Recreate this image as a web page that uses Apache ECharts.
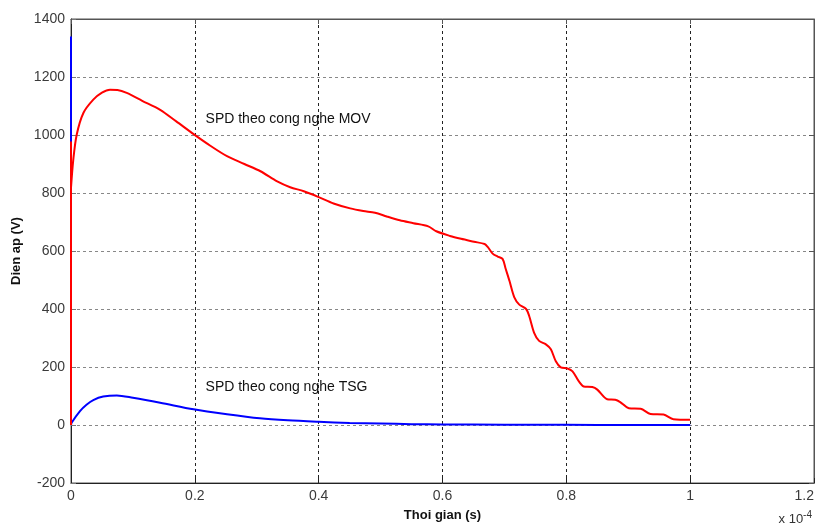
<!DOCTYPE html>
<html><head><meta charset="utf-8">
<script src="https://cdn.jsdelivr.net/npm/echarts@6/dist/echarts.min.js"></script>
<style>html,body{margin:0;padding:0;background:#fff}#c{width:822px;height:525px}</style>
</head><body><div id="c"></div>
<script>
// x in units of 1e-4 s
const xTicks = [0, 0.2, 0.4, 0.6, 0.8, 1.0, 1.2];
const yTicks = [-200, 0, 200, 400, 600, 800, 1000, 1200, 1400];

const movT = [0, 0, 0, 0.0037, 0.0092, 0.020, 0.036, 0.050, 0.063, 0.075, 0.090, 0.115, 0.144, 0.170, 0.198, 0.225, 0.252, 0.280, 0.306, 0.333, 0.354, 0.376, 0.400, 0.424, 0.451, 0.472, 0.491, 0.510, 0.531, 0.553, 0.577, 0.590, 0.612, 0.630, 0.651, 0.668, 0.673, 0.681, 0.689, 0.697, 0.702, 0.708, 0.716, 0.724, 0.735, 0.740, 0.748, 0.756, 0.767, 0.775, 0.783, 0.791, 0.802, 0.810, 0.820, 0.828, 0.842, 0.850, 0.866, 0.879, 0.887, 0.901, 0.920, 0.936, 0.957, 0.973, 1.0];
const movV = [0, 978, 818, 915, 1001, 1076, 1122, 1146, 1156, 1155, 1145, 1118, 1087, 1047, 1003, 963, 927, 900, 875, 840, 820, 806, 786, 764, 747, 738, 732, 719, 706, 696, 685, 668, 652, 642, 632, 624, 614, 591, 581, 573, 539, 498, 440, 415, 400, 376, 318, 290, 278, 261, 220, 199, 195, 185, 151, 133, 131, 122, 89, 87, 79, 58, 56, 38, 36, 20, 18];

const tsgT = [0, 0, 0.001, 0.0145, 0.025, 0.036, 0.052, 0.074, 0.100, 0.144, 0.198, 0.252, 0.305, 0.35, 0.40, 0.45, 0.50, 0.55, 0.60, 0.70, 0.80, 0.90, 1.0];
const tsgV = [1340, 0, 8, 48, 70, 86, 98, 102, 94, 77, 54, 37, 23, 16, 11, 7, 5, 3, 2, 1, 0.5, 0.3, 0.2];

const labelMOV = 'SPD theo cong nghe MOV';
const labelTSG = 'SPD theo cong nghe TSG';
const xName = 'Thoi gian (s)';
const yName = 'Dien ap (V)';

const zip = (a, b) => a.map((v, i) => [v, b[i]]);
const font = 'Liberation Sans, Arial, sans-serif';

const textLabel = (coord, text) => ({
  coord: coord, value: text, symbol: 'circle', symbolSize: 1,
  itemStyle: {color: 'rgba(0,0,0,0)'},
  label: {show: true, position: 'right', distance: 0, formatter: text, fontFamily: font, fontSize: 14, color: '#111'}
});

const chart = echarts.init(document.getElementById('c'));
chart.setOption({
  animation: false,
  backgroundColor: '#fff',
  grid: {left: 71, right: 8, top: 19, bottom: 42, show: true, borderColor: '#555', borderWidth: 1,
    outerBoundsMode: 'none', containLabel: false},
  xAxis: [{
    type: 'value', min: 0, max: 1.2, interval: 0.2,
    name: xName, nameLocation: 'middle', nameGap: 26,
    nameTextStyle: {fontFamily: font, fontSize: 13, fontWeight: 'bold', color: '#111'},
    axisLine: {show: true, onZero: false, lineStyle: {color: '#222'}},
    axisTick: {show: true, inside: true, length: 5, lineStyle: {color: '#222'}},
    axisLabel: {fontFamily: font, fontSize: 14, color: '#3a3a3a', margin: 6, alignMaxLabel: 'right',
      formatter: v => (Math.round(v * 10) / 10).toString()},
    splitLine: {show: true, lineStyle: {color: '#222', type: [3, 3], width: 1}}
  }, {
    type: 'value', min: 0, max: 1.2, interval: 0.2, position: 'top',
    axisLine: {show: true, onZero: false, lineStyle: {color: '#555'}},
    axisTick: {show: true, inside: true, length: 5, lineStyle: {color: '#555'}},
    axisLabel: {show: false}, splitLine: {show: false}
  }],
  yAxis: [{
    type: 'value', min: -200, max: 1400, interval: 200,
    name: yName, nameLocation: 'middle', nameGap: 44, nameRotate: 90,
    nameTextStyle: {fontFamily: font, fontSize: 13, fontWeight: 'bold', color: '#111'},
    axisLine: {show: true, onZero: false, lineStyle: {color: '#222'}},
    axisTick: {show: true, inside: true, length: 5, lineStyle: {color: '#777'}},
    axisLabel: {fontFamily: font, fontSize: 14, color: '#3a3a3a', margin: 6, formatter: v => String(v)},
    splitLine: {show: true, lineStyle: {color: '#888', type: [3, 3], width: 1}}
  }, {
    type: 'value', min: -200, max: 1400, interval: 200, position: 'right',
    axisLine: {show: true, onZero: false, lineStyle: {color: '#555'}},
    axisTick: {show: true, inside: true, length: 5, lineStyle: {color: '#555'}},
    axisLabel: {show: false}, splitLine: {show: false}
  }],
  series: [{
    type: 'line', data: zip(tsgT, tsgV), showSymbol: false, smooth: 0.3,
    lineStyle: {color: '#0000ff', width: 2}, z: 3,
    markPoint: {silent: true, data: [textLabel([0.2165, 130], labelTSG)]}
  }, {
    type: 'line', data: zip(movT, movV), showSymbol: false, smooth: 0.3,
    lineStyle: {color: '#ff0000', width: 2}, z: 4,
    markPoint: {silent: true, data: [textLabel([0.2165, 1054], labelMOV)]}
  }],
  graphic: [{
    type: 'text', right: 10, top: 510,
    style: {text: 'x 10{s|-4}', rich: {s: {fontSize: 10, verticalAlign: 'top', padding: [0, 0, 8, 0], fontFamily: font, fill: '#333'}}, fontFamily: font, fontSize: 13, fill: '#333'}
  }]
});
</script></body></html>
